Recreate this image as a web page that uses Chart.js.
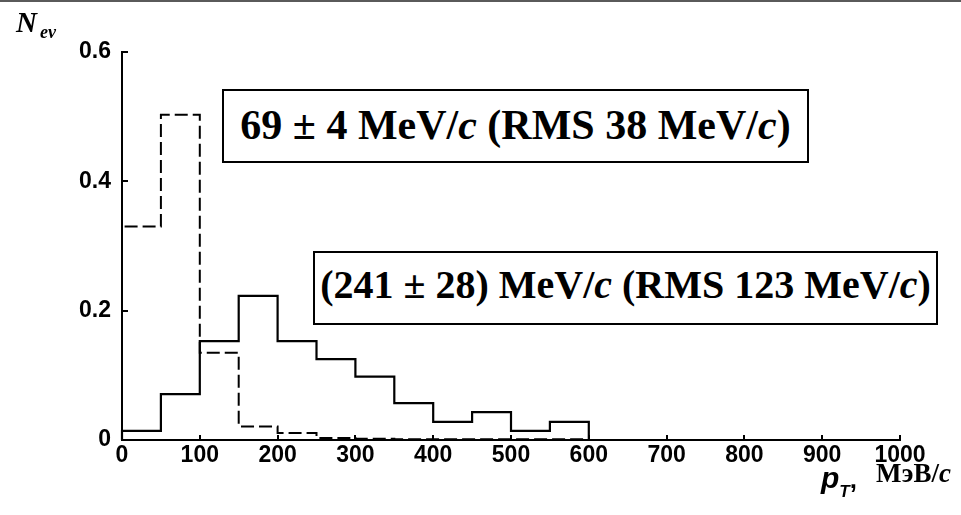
<!DOCTYPE html>
<html>
<head>
<meta charset="utf-8">
<script src="https://cdn.jsdelivr.net/npm/chart.js@4/dist/chart.umd.min.js"></script>
<style>
  html, body { margin: 0; padding: 0; background: #fff; }
  #wrap { position: relative; width: 961px; height: 515px; overflow: hidden; }
  #topline { position: absolute; left: 0; top: 0; width: 961px; height: 2px; background: #5a5a5a; }
  canvas { position: absolute; left: 0; top: 0; }
  .box {
    position: absolute; box-sizing: border-box; border: 2px solid #000;
    display: flex; align-items: center; justify-content: center;
    font-family: "Liberation Serif", "Times New Roman", serif; font-weight: bold;
    font-size: 42px; white-space: nowrap; color: #000; background: #fff;
  }
  .box i { font-style: italic; }
  .lbl { position: absolute; color: #000; white-space: nowrap; }
</style>
</head>
<body>
<div id="wrap">
  <canvas id="histChart" width="961" height="515"></canvas>
  <div id="topline"></div>
  <div class="box" style="left:222px; top:89px; width:587px; height:74px; padding-bottom:3px;">69&nbsp;±&nbsp;4 MeV/<i>c</i>&nbsp;(RMS 38 MeV/<i>c</i>)</div>
  <div class="box" style="left:313px; top:251px; width:625px; height:74px; font-size:40px; padding-bottom:8px;">(241&nbsp;±&nbsp;28) MeV/<i>c</i>&nbsp;(RMS 123 MeV/<i>c</i>)</div>
  <div class="lbl" style="left:16px; top:6px; font-family:'Liberation Serif',serif; font-weight:bold; font-style:italic; font-size:29px;">N<sub style="font-size:18px; vertical-align:-6px; margin-left:3px;">ev</sub></div>
  <div class="lbl" style="left:821px; top:458px;"><span style="font-family:'Liberation Sans',sans-serif; font-weight:bold; font-style:italic; font-size:30px;">p</span><sub style="font-family:'Liberation Sans',sans-serif; font-weight:bold; font-style:italic; font-size:17px; vertical-align:-9px;">T</sub><span style="font-family:'Liberation Sans',sans-serif; font-weight:bold; font-size:26px;">,</span><span style="font-family:'Liberation Serif',serif; font-weight:bold; font-size:27px; margin-left:19px; vertical-align:6px;">МэВ/<i>c</i></span></div>
</div>
<script>
// bin lower edges (MeV/c), each bin 50 wide
const binStart = [0, 50, 100, 150, 200, 250, 300, 350, 400, 450, 500, 550];
const binWidth = 50;
// solid histogram: (241 ± 28) MeV/c
const solidValues = [0.014, 0.071, 0.153, 0.223, 0.153, 0.125, 0.098, 0.057, 0.028, 0.043, 0.014, 0.028];
// dashed histogram: 69 ± 4 MeV/c
const dashedValues = [0.330, 0.503, 0.135, 0.021, 0.011, 0.003, 0.002, 0.001, 0.001, 0.001, 0.001, 0.001];
// axis ticks
const xTicks = [0, 100, 200, 300, 400, 500, 600, 700, 800, 900, 1000];
const xTickLabels = ['0', '100', '200', '300', '400', '500', '600', '700', '800', '900', '1000'];
const yTicks = [0, 0.2, 0.4, 0.6];
const yTickLabels = ['0', '0.2', '0.4', '0.6'];

function stepPoints(values) {
    const pts = [{ x: binStart[0], y: 0 }];
    values.forEach((v, i) => {
        pts.push({ x: binStart[i], y: v });
        pts.push({ x: binStart[i] + binWidth, y: v });
    });
    pts.push({ x: binStart[binStart.length - 1] + binWidth, y: 0 });
    return pts;
}

function labelFor(ticks, labels, v) {
    const i = ticks.findIndex(t => Math.abs(t - v) < 1e-9);
    return i < 0 ? '' : labels[i];
}

// ticks pointing into the plot, like the original
const innerTicks = {
    id: 'innerTicks',
    afterDatasetsDraw(chart) {
        const { ctx, chartArea, scales } = chart;
        ctx.save();
        ctx.strokeStyle = '#000';
        ctx.lineWidth = 2;
        xTicks.forEach(v => {
            if (v === 0) return;
            const px = Math.round(scales.x.getPixelForValue(v));
            ctx.beginPath();
            ctx.moveTo(px, chartArea.bottom);
            ctx.lineTo(px, chartArea.bottom - 5);
            ctx.stroke();
        });
        yTicks.forEach(v => {
            if (v === 0) return;
            const py = Math.round(scales.y.getPixelForValue(v));
            ctx.beginPath();
            ctx.moveTo(chartArea.left, py);
            ctx.lineTo(chartArea.left + 6, py);
            ctx.stroke();
        });
        ctx.restore();
    }
};

const tickFont = { family: "'Liberation Sans', Arial, sans-serif", size: 23, weight: 'bold' };

new Chart(document.getElementById('histChart').getContext('2d'), {
    type: 'line',
    data: {
        datasets: [{
            data: stepPoints(dashedValues),
            borderColor: '#000',
            borderWidth: 2,
            borderDash: [13, 5],
            pointRadius: 0,
            tension: 0,
            fill: false,
            clip: false
        }, {
            data: stepPoints(solidValues),
            borderColor: '#000',
            borderWidth: 2.2,
            pointRadius: 0,
            tension: 0,
            fill: false,
            clip: false
        }]
    },
    options: {
        responsive: false,
        animation: false,
        events: [],
        layout: { padding: { left: 0, top: 52, right: 61, bottom: 0 } },
        plugins: { legend: { display: false }, tooltip: { enabled: false } },
        scales: {
            x: {
                type: 'linear',
                min: 0,
                max: 1000,
                afterBuildTicks: s => { s.ticks = xTicks.map(v => ({ value: v })); },
                afterFit: s => { s.height = 75; },
                ticks: {
                    color: '#000', font: tickFont, padding: 2, maxRotation: 0,
                    callback: v => labelFor(xTicks, xTickLabels, v)
                },
                grid: { drawOnChartArea: false, drawTicks: false },
                border: { display: true, color: '#000', width: 2 }
            },
            y: {
                type: 'linear',
                min: 0,
                max: 0.6,
                afterBuildTicks: s => { s.ticks = yTicks.map(v => ({ value: v })); },
                afterFit: s => { s.width = 122; },
                ticks: {
                    color: '#000', font: tickFont, padding: 11,
                    callback: v => labelFor(yTicks, yTickLabels, v)
                },
                grid: { drawOnChartArea: false, drawTicks: false },
                border: { display: true, color: '#000', width: 2 }
            }
        }
    },
    plugins: [innerTicks]
});
</script>
</body>
</html>
